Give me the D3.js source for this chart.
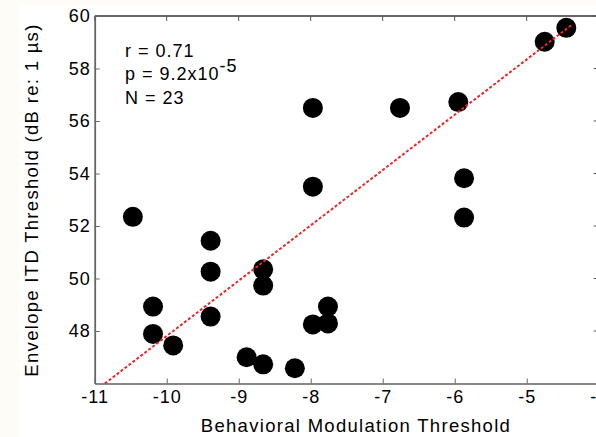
<!DOCTYPE html>
<html>
<head>
<meta charset="utf-8">
<script src="https://cdn.jsdelivr.net/npm/d3@7"></script>
<style>
  html, body { margin: 0; padding: 0; background: #fdfcf7; }
  svg { display: block; }
  text { font-family: "Liberation Sans", Arial, sans-serif; fill: #000; }
</style>
</head>
<body>
<svg id="chart" width="596" height="437"></svg>
<script>
// Behavioral modulation threshold vs envelope ITD threshold, one point per listener
const modThreshold = [-10.47, -9.39, -9.39, -9.39, -10.19, -10.19, -9.91, -8.66, -8.66,
  -8.89, -8.66, -8.22, -7.97, -7.97, -6.76, -5.95, -5.87, -5.87, -7.76, -7.97, -7.76,
  -4.75, -4.45];
const itdThreshold = [52.35, 51.44, 50.26, 48.55, 48.93, 47.89, 47.45, 50.35, 49.73,
  47.0, 46.73, 46.58, 56.5, 53.5, 56.5, 56.72, 53.82, 52.32, 48.93, 48.25, 48.29,
  59.02, 59.55];

// Least-squares fit line (slope, intercept) and its drawn x extent
const fitSlope = 2.107;
const fitIntercept = 68.88;
const fitRange = [-10.86, -4.37];

const xTicks = [-11, -10, -9, -8, -7, -6, -5, -4];
const yTicks = [48, 50, 52, 54, 56, 58, 60];
const statLines = ["r = 0.71", "p = 9.2x10", "N = 23"];

const svg = d3.select("#chart");

// white figure panel
svg.append("rect").attr("x", 20).attr("y", 5).attr("width", 576).attr("height", 432)
  .attr("fill", "#ffffff");

const pLeft = 94.7, pRight = 598.7, pTop = 16, pBottom = 383.5;
const x = d3.scaleLinear().domain([-11, -4]).range([pLeft, pRight]);
const y = d3.scaleLinear().domain([46, 60]).range([pBottom, pTop]);

const g = svg.append("g");

// box: top and right edges with inward ticks
g.append("line").attr("x1", pLeft).attr("x2", pRight).attr("y1", pTop).attr("y2", pTop)
  .attr("stroke", "#333").attr("stroke-width", 1.3);
g.append("line").attr("x1", pRight).attr("x2", pRight).attr("y1", pTop).attr("y2", pBottom)
  .attr("stroke", "#333").attr("stroke-width", 1.3);
g.selectAll(".ttick").data(xTicks).enter().append("line")
  .attr("x1", d => x(d)).attr("x2", d => x(d)).attr("y1", pTop).attr("y2", pTop + 5)
  .attr("stroke", "#555").attr("stroke-width", 1);
g.selectAll(".rtick").data(yTicks).enter().append("line")
  .attr("x1", pRight).attr("x2", pRight - 5).attr("y1", d => y(d)).attr("y2", d => y(d))
  .attr("stroke", "#555").attr("stroke-width", 1);

// bottom axis
const xAxis = d3.axisBottom(x).tickValues(xTicks).tickSizeInner(-5).tickSizeOuter(0)
  .tickPadding(7).tickFormat(d => String(d));
const xg = g.append("g").attr("transform", `translate(0,${pBottom})`).call(xAxis);
xg.select(".domain").attr("stroke", "#888").attr("stroke-width", 2.2);
xg.selectAll(".tick line").attr("stroke", "#666");
xg.selectAll(".tick text").attr("font-size", 18).attr("letter-spacing", 1)
  .attr("font-family", "Liberation Sans, Arial, sans-serif").attr("fill", "#000");

// left axis
const yAxis = d3.axisLeft(y).tickValues(yTicks).tickSizeInner(-5).tickSizeOuter(0)
  .tickPadding(4);
const yg = g.append("g").attr("transform", `translate(${pLeft},0)`).call(yAxis);
yg.select(".domain").attr("stroke", "#666").attr("stroke-width", 1.8);
yg.selectAll(".tick line").attr("stroke", "#666");
yg.selectAll(".tick text").attr("font-size", 18).attr("letter-spacing", 1)
  .attr("font-family", "Liberation Sans, Arial, sans-serif").attr("fill", "#000");

// data points
g.selectAll(".pt").data(modThreshold).enter().append("circle")
  .attr("cx", d => x(d)).attr("cy", (d, i) => y(itdThreshold[i]))
  .attr("r", 10).attr("fill", "#000");

// regression line
g.append("line")
  .attr("x1", x(fitRange[0])).attr("y1", y(fitSlope * fitRange[0] + fitIntercept))
  .attr("x2", x(fitRange[1])).attr("y2", y(fitSlope * fitRange[1] + fitIntercept))
  .attr("stroke", "#e8282a").attr("stroke-width", 2).attr("stroke-dasharray", "3,2");

// statistics text
const st = g.append("g").attr("font-size", 18).attr("letter-spacing", 1);
st.append("text").attr("x", 125).attr("y", 57).text(statLines[0]);
const pt = st.append("text").attr("x", 125).attr("y", 80);
pt.append("tspan").text(statLines[1]);
pt.append("tspan").attr("dy", -8).text("-5");
st.append("text").attr("x", 125).attr("y", 104).text(statLines[2]);

// axis labels
svg.append("text").attr("x", 356).attr("y", 432).attr("text-anchor", "middle")
  .attr("font-size", 18.5).attr("letter-spacing", 1.3).text("Behavioral Modulation Threshold");
svg.append("text").attr("transform", "translate(38,200) rotate(-90)")
  .attr("text-anchor", "middle").attr("font-size", 18.5).attr("letter-spacing", 1.3)
  .text("Envelope ITD Threshold (dB re: 1 \u00b5s)");
</script>
</body>
</html>
